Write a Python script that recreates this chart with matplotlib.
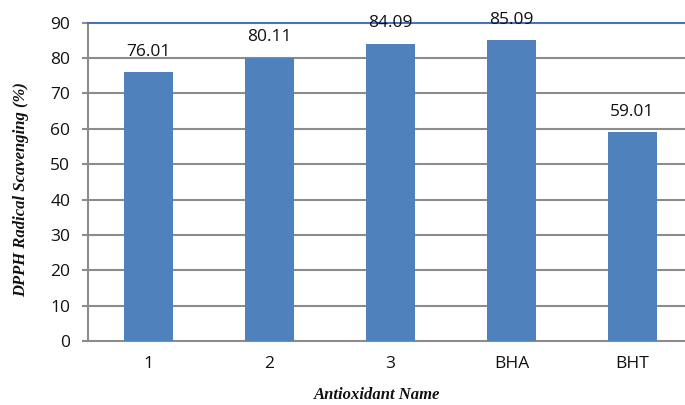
import matplotlib
matplotlib.use("Agg")
import matplotlib.pyplot as plt

categories = ["1", "2", "3", "BHA", "BHT"]
scavenging = [76.01, 80.11, 84.09, 85.09, 59.01]
y_ticks = [0, 10, 20, 30, 40, 50, 60, 70, 80, 90]

bar_color = "#4F81BD"
grid_color = "#8C8C8C"
top_color = "#4A72B8"

fig = plt.figure(figsize=(6.85, 4.05), dpi=100)
ax = fig.add_axes([88 / 685, 64 / 405, 605 / 685, 318.3 / 405])

x = list(range(len(categories)))
ax.bar(x, scavenging, width=0.40, color=bar_color, zorder=3)

for xi, v in zip(x, scavenging):
    ax.annotate(f"{v:.2f}", (xi, v), xytext=(0, 9), textcoords="offset points",
                ha="center", va="bottom", fontsize=12.5, family="Open Sans",
                color="#111111", zorder=4)

ax.set_xlim(-0.5, len(categories) - 0.5)
ax.set_ylim(0, 90)
ax.set_yticks(y_ticks)
ax.set_xticks(x)
ax.set_xticklabels(categories)

for t in ax.get_yticks()[1:-1]:
    ax.axhline(t, color=grid_color, lw=1.5, zorder=1)

for s in ["right"]:
    ax.spines[s].set_visible(False)
ax.spines["top"].set_color(top_color)
ax.spines["top"].set_linewidth(1.5)
ax.spines["left"].set_color(grid_color)
ax.spines["left"].set_linewidth(1.5)
ax.spines["bottom"].set_color(grid_color)
ax.spines["bottom"].set_linewidth(1.5)

ax.tick_params(axis="y", length=4.3, width=1.5, color=grid_color, pad=8.5,
               labelsize=12.5, labelcolor="#111111")
ax.tick_params(axis="x", length=0, pad=11, labelsize=12.5, labelcolor="#111111")
for lab in ax.get_xticklabels() + ax.get_yticklabels():
    lab.set_family("Open Sans")

fig.text(21 / 685, 1 - 190 / 405, "DPPH Radical Scavenging (%)", rotation=90,
         ha="center", va="center", fontsize=12, family="Liberation Serif",
         style="italic", weight="bold", color="#111111")
fig.text(377 / 685, 1 - 395 / 405, "Antioxidant Name",
         ha="center", va="center", fontsize=12, family="Liberation Serif",
         style="italic", weight="bold", color="#111111")

fig.savefig("out.png", dpi=100)
